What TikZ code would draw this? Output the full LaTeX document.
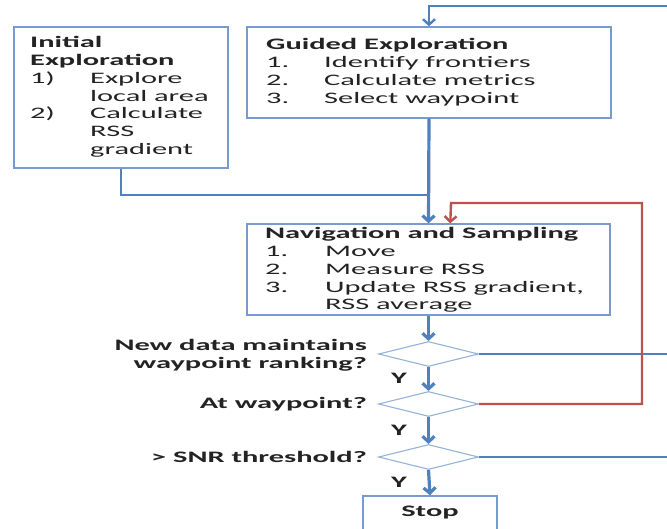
\documentclass[tikz,border=0pt]{standalone}
\usepackage{fontspec}
\setmainfont{Carlito}[FakeStretch=1.9]
\usetikzlibrary{arrows.meta,shapes.geometric,calc}
\definecolor{lnblue}{RGB}{79,129,189}
\definecolor{bxblue}{RGB}{120,155,205}
\definecolor{dmblue}{RGB}{149,179,215}
\definecolor{lnred}{RGB}{192,80,77}
\definecolor{txtc}{RGB}{35,35,35}
\newcommand{\fsz}{\fontsize{16}{17.7}\selectfont}
\newcommand{\numc}[2]{\makebox[#1][l]{#2}}
\tikzset{
  box/.style={draw=bxblue, line width=1.4pt, inner sep=0pt, fill=white},
  dia/.style={diamond, draw=dmblue, line width=1.1pt, inner sep=0pt, minimum width=100pt, minimum height=25pt, fill=white},
  conn/.style={draw=lnblue, line width=3.2pt},
  thinconn/.style={draw=lnblue, line width=2.4pt},
  redconn/.style={draw=lnred, line width=2.4pt},
  arr/.style={-{Straight Barb[length=5.5pt,width=12pt]}},
  txtnode/.style={inner sep=0pt, text=txtc, font=\fsz, anchor=base west},
  dlab/.style={inner sep=0pt, text=txtc, font=\fsz\bfseries, align=right, anchor=east},
  ylab/.style={inner sep=0pt, text=txtc, font=\fsz\bfseries}
}
\begin{document}
\begin{tikzpicture}[x=1pt,y=-1pt]
\clip (0,0) rectangle (667,529);
\fill[white] (0,0) rectangle (667,529);

% boxes
\node[box, minimum width=214pt, minimum height=141pt] (init) at (121,97.5) {};
\node[box, minimum width=364pt, minimum height=91pt] (gd) at (429,72.5) {};
\node[box, minimum width=363pt, minimum height=91pt] (nav) at (428.5,269.5) {};
\node[box, minimum width=134pt, minimum height=34pt, font=\fsz\bfseries, text=txtc] (stop) at (430,513) {Stop};

% diamonds
\node[dia] (d1) at (428.5,354) {};
\node[dia] (d2) at (428.5,404) {};
\node[dia] (d3) at (428.5,457) {};

% box texts
\node[txtnode] (inittxt) at (30,48) {\parbox[t]{200pt}{\fsz
\textbf{Initial}\\
\textbf{Exploration}\\
\numc{60pt}{1)}Explore\\
\hspace*{60pt}local area\\
\numc{60pt}{2)}Calculate\\
\hspace*{60pt}RSS\\
\hspace*{60pt}gradient}};

\node[txtnode] (gdtxt) at (266,50) {\parbox[t]{340pt}{\fsz
\textbf{Guided Exploration}\\
\numc{58pt}{1.}Identify frontiers\\
\numc{58pt}{2.}Calculate metrics\\
\numc{58pt}{3.}Select waypoint}};

\node[txtnode] (navtxt) at (265,239) {\parbox[t]{340pt}{\fsz
\textbf{Navigation and Sampling}\\
\numc{60pt}{1.}Move\\
\numc{60pt}{2.}Measure RSS\\
\numc{60pt}{3.}Update RSS gradient,\\
\hspace*{60pt}RSS average}};

% diamond labels
\node[dlab] (l1) at (367,355) {New data maintains\\waypoint ranking?};
\node[dlab] (l2) at (367,404) {At waypoint?};
\node[dlab] (l3) at (367,457) {> SNR threshold?};

\node[ylab] (y1) at (399,378) {Y};
\node[ylab] (y2) at (399,430) {Y};
\node[ylab] (y3) at (399,482) {Y};

% connectors
\coordinate (topR) at (667,6);
\coordinate (join) at (428.5,195);
\coordinate (d1R) at (667,354);
\coordinate (d3R) at (667,457);

\draw[thinconn, arr] (topR) -| (gd.north);
\draw[thinconn] (init.south) |- (join);
\draw[conn, arr] (gd.south) -- (nav.north);
\draw[conn, arr] (nav.south) -- (d1.north);
\draw[conn, arr] (d1.south) -- (d2.north);
\draw[conn, arr] (d2.south) -- (d3.north);
\draw[conn, arr] (d3.south) -- (stop.north);
\draw[thinconn] (d1.east) -- (d1R);
\draw[thinconn] (d3.east) -- (d3R);
\draw[redconn, arr] (d2.east) -- (642,404) -- (642,203) -- (451,203) -- ($(nav.north west)+(204,0)$);
\end{tikzpicture}
\end{document}
